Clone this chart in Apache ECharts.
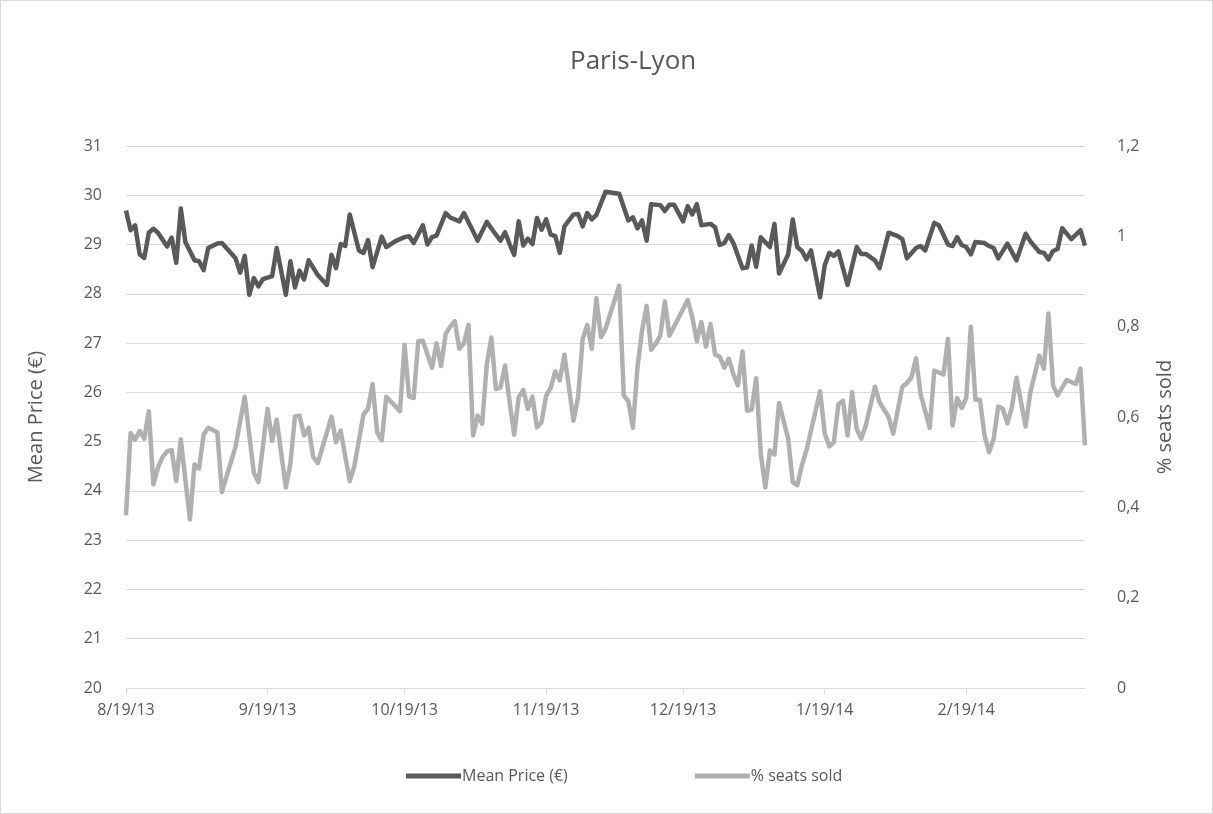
<!DOCTYPE html>
<html>
<head>
<meta charset="utf-8">
<script src="https://cdn.jsdelivr.net/npm/echarts@6/dist/echarts.min.js"></script>
<style>
html,body{margin:0;padding:0;background:#fff;}
#chart{width:1211px;height:812px;border:1px solid #d9d9d9;}
</style>
</head>
<body>
<div id="chart"></div>
<script>
// Day offsets from 8/19/13 and values
var priceDays = [0,1,2,3,4,5,6,7,9,10,11,12,13,15,16,17,18,20,21,24,25,26,27,28,29,30,32,33,35,36,37,38,39,40,42,44,45,46,47,48,49,51,52,53,54,56,57,59,61,62,63,65,66,67,68,70,71,73,74,76,77,79,81,82,83,84,85,86,87,88,89,90,91,92,93,94,95,96,98,99,100,101,102,103,105,108,110,111,112,113,114,115,117,118,119,120,122,123,124,125,126,128,129,130,131,132,133,135,136,137,138,139,141,142,143,145,146,147,148,149,150,152,153,154,155,156,158,160,161,162,164,165,167,169,170,171,173,174,175,177,178,180,181,182,183,184,185,186,188,189,190,191,193,195,197,198,200,201,202,203,204,205,207,209,210];
var priceValues = [29.69,29.29,29.39,28.80,28.73,29.24,29.32,29.24,28.96,29.14,28.63,29.73,29.05,28.68,28.66,28.48,28.93,29.02,29.03,28.72,28.43,28.77,27.98,28.32,28.15,28.30,28.36,28.93,27.98,28.66,28.13,28.47,28.29,28.68,28.38,28.18,28.79,28.52,29.01,28.97,29.61,28.88,28.83,29.09,28.54,29.16,28.95,29.07,29.15,29.17,29.03,29.39,29.00,29.15,29.18,29.64,29.55,29.47,29.64,29.27,29.08,29.46,29.20,29.08,29.25,29.01,28.79,29.47,28.98,29.12,29.01,29.54,29.30,29.51,29.20,29.17,28.83,29.37,29.61,29.62,29.37,29.64,29.51,29.60,30.07,30.03,29.49,29.55,29.33,29.49,29.08,29.82,29.80,29.68,29.81,29.81,29.47,29.78,29.61,29.82,29.39,29.42,29.35,28.99,29.03,29.19,29.03,28.52,28.54,28.98,28.55,29.15,28.95,29.42,28.41,28.80,29.51,28.95,28.87,28.70,28.88,27.93,28.58,28.83,28.77,28.86,28.18,28.95,28.81,28.81,28.68,28.52,29.24,29.17,29.11,28.72,28.93,28.97,28.88,29.44,29.39,29.00,28.97,29.15,28.99,28.95,28.80,29.05,29.03,28.97,28.93,28.72,29.02,28.68,29.22,29.07,28.85,28.83,28.70,28.87,28.91,29.33,29.11,29.29,28.98];
var seatsDays = [0,1,2,3,4,5,6,7,8,9,10,11,12,14,15,16,17,18,20,21,24,26,28,29,31,32,33,35,36,37,38,39,40,41,42,45,46,47,49,50,52,53,54,55,56,57,60,61,62,63,64,65,67,68,69,70,71,72,73,74,75,76,77,78,79,80,81,82,83,84,85,86,87,88,89,90,91,92,93,94,95,96,98,99,100,101,102,103,104,105,108,109,110,111,112,113,114,115,116,117,118,119,123,124,125,126,127,128,129,130,131,132,133,134,135,136,137,138,139,140,141,142,143,145,146,147,148,149,152,153,154,155,156,157,158,159,160,161,162,164,165,166,167,168,170,171,172,173,174,176,177,179,180,181,182,183,184,185,186,187,188,189,190,191,192,193,194,195,197,198,200,201,202,203,204,206,208,209,210];
var seatsValues = [0.382,0.564,0.550,0.569,0.552,0.613,0.451,0.488,0.511,0.524,0.527,0.458,0.550,0.373,0.495,0.486,0.561,0.576,0.566,0.434,0.535,0.645,0.476,0.456,0.618,0.547,0.594,0.444,0.497,0.601,0.603,0.559,0.576,0.511,0.498,0.601,0.544,0.570,0.458,0.491,0.606,0.618,0.673,0.566,0.548,0.645,0.613,0.760,0.645,0.642,0.768,0.769,0.709,0.763,0.713,0.784,0.800,0.812,0.751,0.763,0.804,0.559,0.603,0.585,0.716,0.776,0.662,0.665,0.714,0.633,0.561,0.644,0.660,0.618,0.645,0.577,0.589,0.647,0.665,0.701,0.681,0.738,0.592,0.644,0.773,0.804,0.751,0.863,0.777,0.795,0.891,0.648,0.635,0.576,0.710,0.791,0.846,0.749,0.762,0.780,0.856,0.780,0.859,0.821,0.768,0.810,0.756,0.806,0.738,0.734,0.709,0.729,0.695,0.670,0.745,0.614,0.616,0.686,0.519,0.444,0.526,0.517,0.631,0.552,0.456,0.449,0.493,0.526,0.657,0.564,0.535,0.544,0.628,0.636,0.559,0.655,0.574,0.552,0.581,0.667,0.633,0.616,0.600,0.563,0.667,0.675,0.688,0.730,0.651,0.576,0.703,0.694,0.773,0.581,0.642,0.620,0.642,0.800,0.638,0.638,0.559,0.522,0.552,0.623,0.618,0.586,0.622,0.687,0.579,0.653,0.736,0.707,0.829,0.670,0.648,0.682,0.673,0.707,0.537];
var xTickDays = [0,31,61,92,122,153,184];
var xTickLabels = ['8/19/13','9/19/13','10/19/13','11/19/13','12/19/13','1/19/14','2/19/14'];
var seriesNames = ['Mean Price (€)', '% seats sold'];

function pairs(d, v){ return d.map(function(x,i){ return [x, v[i]]; }); }

var FONT = 'Open Sans';
var TXT = '#595959';
var chart = echarts.init(document.getElementById('chart'));
chart.setOption({
  animation: false,
  textStyle: { fontFamily: FONT, color: TXT },
  title: { text: 'Paris-Lyon', left: 564, top: 43, textStyle: { fontFamily: FONT, fontSize: 26, fontWeight: 'normal', color: TXT } },
  grid: { left: 125, right: 127, top: 145, bottom: 125, containLabel: false },
  legend: {
    bottom: 24, left: 400, itemGap: 127, itemWidth: 55, itemHeight: 5, icon: 'rect',
    textStyle: { fontFamily: FONT, fontSize: 16, color: TXT, padding: [0,0,0,-4] },
    data: seriesNames
  },
  xAxis: {
    type: 'value', min: 0, max: 210,
    axisLine: { show: true, lineStyle: { color: '#d9d9d9', width: 1 } },
    axisTick: { show: true, customValues: xTickDays, length: 6, lineStyle: { color: '#d9d9d9' } },
    axisLabel: { customValues: xTickDays, fontFamily: FONT, fontSize: 16, color: TXT, margin: 14,
      formatter: function(v){ var i = xTickDays.indexOf(v); return i >= 0 ? xTickLabels[i] : ''; } },
    splitLine: { show: false }
  },
  yAxis: [
    { type: 'value', min: 20, max: 31, interval: 1,
      name: 'Mean Price (€)', nameLocation: 'middle', nameGap: 80, nameRotate: 90,
      nameTextStyle: { fontFamily: FONT, fontSize: 20, color: TXT },
      axisLine: { show: false }, axisTick: { show: false },
      axisLabel: { fontFamily: FONT, fontSize: 16, color: TXT, margin: 24 },
      splitLine: { lineStyle: { color: '#d9d9d9', width: 1 } } },
    { type: 'value', min: 0, max: 1.2, interval: 0.2, position: 'right',
      name: '% seats sold', nameLocation: 'middle', nameGap: 70, nameRotate: 90,
      nameTextStyle: { fontFamily: FONT, fontSize: 20, color: TXT },
      axisLine: { show: false }, axisTick: { show: false },
      axisLabel: { fontFamily: FONT, fontSize: 16, color: TXT, margin: 32,
        formatter: function(v){ return String(Math.round(v*10)/10).replace('.', ','); } },
      splitLine: { show: false } }
  ],
  series: [
    { name: seriesNames[0], type: 'line', yAxisIndex: 0, data: pairs(priceDays, priceValues),
      showSymbol: false, symbol: 'none', lineStyle: { color: '#595959', width: 4.5, join: 'round' }, itemStyle: { color: '#595959' }, z: 3 },
    { name: seriesNames[1], type: 'line', yAxisIndex: 1, data: pairs(seatsDays, seatsValues),
      showSymbol: false, symbol: 'none', lineStyle: { color: '#b0b0b0', width: 4.5, join: 'round' }, itemStyle: { color: '#b0b0b0' }, z: 2 }
  ]
});
</script>
</body>
</html>
